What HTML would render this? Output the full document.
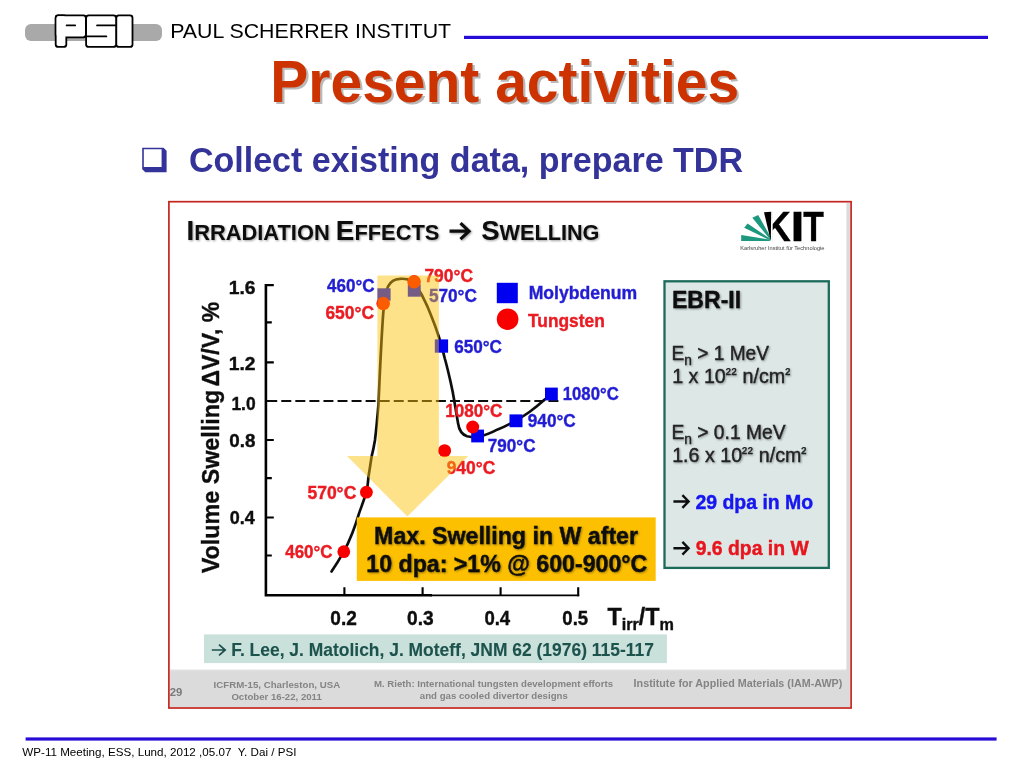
<!DOCTYPE html>
<html lang="en">
<head>
<meta charset="utf-8">
<title>Present activities</title>
<style>
html,body{margin:0;padding:0;background:#fff;}
body{width:1024px;height:768px;position:relative;overflow:hidden;font-family:"Liberation Sans",sans-serif;}
#slide{position:absolute;left:0;top:0;width:1024px;height:768px;display:block;}
text{font-family:"Liberation Sans",sans-serif;}
.b{font-weight:bold;}
.blue{fill:#241fd2;stroke:#241fd2;}
.red{fill:#ea1c24;stroke:#ea1c24;}
#figure text{stroke-width:0.4px;}
</style>
</head>
<body>
<svg id="slide" width="1024" height="768" viewBox="0 0 1024 768">
<defs>
  <filter id="soft" x="-2%" y="-2%" width="104%" height="104%"><feGaussianBlur stdDeviation="0.62"/></filter>
  <filter id="sh" x="-10%" y="-30%" width="120%" height="170%">
    <feGaussianBlur in="SourceAlpha" stdDeviation="1" result="b"/>
    <feOffset in="b" dx="1" dy="1.3" result="o"/>
    <feComponentTransfer in="o" result="s"><feFuncA type="linear" slope="0.38"/></feComponentTransfer>
    <feMerge><feMergeNode in="s"/><feMergeNode in="SourceGraphic"/></feMerge>
  </filter>
  <linearGradient id="footg" x1="0" y1="0" x2="0" y2="1"><stop offset="0" stop-color="#e6e6e6"/><stop offset="0.06" stop-color="#dbdbdb"/><stop offset="1" stop-color="#dbdbdb"/></linearGradient>
</defs>

<!-- ===== header ===== -->
<g id="psi-logo">
  <rect x="25" y="24" width="137" height="17" rx="6" ry="6" fill="#a9a9a9"/>
  <g fill="#000">
    <rect x="54.8" y="14.4" width="32" height="23.8" rx="3.4"/>
    <rect x="54.8" y="14.4" width="12.4" height="33.4" rx="3.4"/>
    <rect x="85.2" y="14.4" width="31.8" height="33.4" rx="3.4"/>
    <rect x="115.4" y="14.4" width="18" height="33.4" rx="3.4"/>
  </g>
  <g fill="#fff">
    <rect x="56.6" y="16.2" width="28.4" height="20.2" rx="1.8"/>
    <rect x="56.6" y="16.2" width="8.8" height="29.8" rx="1.8"/>
    <rect x="87" y="16.2" width="28.2" height="29.8" rx="1.8"/>
    <rect x="117.2" y="16.2" width="14.4" height="29.8" rx="1.8"/>
  </g>
  <g stroke="#000" stroke-width="1.7" stroke-linecap="round" fill="none">
    <line x1="66.6" y1="25.4" x2="75.2" y2="25.4"/>
    <line x1="97" y1="25.4" x2="115.5" y2="25.4"/>
    <line x1="86" y1="36.4" x2="106.4" y2="36.4"/>
  </g>
</g>
<text id="hdr" x="170.2" y="37.5" font-size="21" textLength="280.9" lengthAdjust="spacingAndGlyphs" fill="#000">PAUL SCHERRER INSTITUT</text>
<rect x="464" y="35.8" width="524" height="3.2" fill="#260cd4"/>

<!-- ===== title ===== -->
<text id="titlesh" x="272.5" y="103.7" font-size="60" class="b" textLength="468.8" lengthAdjust="spacingAndGlyphs" fill="#b9b9b9">Present activities</text>
<text id="title" x="270.3" y="101.5" font-size="60" class="b" textLength="468.8" lengthAdjust="spacingAndGlyphs" fill="#cc3300">Present activities</text>

<!-- ===== bullet ===== -->
<path d="M142.2 147.7H163.5L166.6 150.8V172.3H145.3L142.2 169.2Z M143.8 149.2V167H161.6V149.2Z" fill="#333399" fill-rule="evenodd"/>
<text id="bul" x="188.9" y="172.2" font-size="35.8" class="b" textLength="554.1" lengthAdjust="spacingAndGlyphs" fill="#333399">Collect existing data, prepare TDR</text>

<!-- ===== embedded figure ===== -->
<g id="figure">
  <rect x="168.9" y="201.7" width="682.2" height="506.3" fill="#fff" stroke="#c4261f" stroke-width="1.7"/>
  <rect x="170" y="669.4" width="680" height="37.6" fill="url(#footg)"/>
  <rect x="846.4" y="203" width="3.6" height="504" fill="#dbdbdb"/>

  <g filter="url(#soft)">
  <!-- figure title -->
  <g class="b" fill="#0a0a0a" filter="url(#sh)">
    <text id="ft1" x="186.4" y="239.8" textLength="253.0" lengthAdjust="spacingAndGlyphs"><tspan font-size="28">I</tspan><tspan font-size="22">RRADIATION </tspan><tspan font-size="28">E</tspan><tspan font-size="22">FFECTS</tspan></text>
    <text id="ft2" x="481.2" y="239.8" textLength="118.2" lengthAdjust="spacingAndGlyphs"><tspan font-size="28">S</tspan><tspan font-size="22">WELLING</tspan></text>
    <path d="M449.5 231.2H468.5M460.5 223.2L469 231.2L460.5 239.2" fill="none" stroke="#111" stroke-width="3.2" stroke-linejoin="miter"/>
  </g>

  <!-- KIT logo -->
  <g id="kitlogo">
    <clipPath id="kclip"><rect x="772.7" y="205" width="30" height="40"/></clipPath>
    <g fill="#1c987e">
      <polygon points="770.4,241 741.2,241 741.2,235 769,239.6"/>
      <polygon points="770.4,240.6 744.2,227.8 747.6,223.5 770,238.8"/>
      <polygon points="770.6,240 752.3,217.8 758.2,215 770.6,237"/>
    </g>
    <polygon points="764,212.2 771.2,211.7 770.8,241" fill="#000"/>
    <g font-size="42.6" class="b" fill="#000" stroke="#000" stroke-width="0.9">
      <text id="kitk" clip-path="url(#kclip)" x="764.3" y="240.6" textLength="26.5" lengthAdjust="spacingAndGlyphs">K</text>
      <text id="kiti" x="790.6" y="240.6" textLength="14" lengthAdjust="spacingAndGlyphs">I</text>
      <text id="kitt" x="803.2" y="240.6" textLength="20.6" lengthAdjust="spacingAndGlyphs">T</text>
    </g>
    <text id="kitsub" x="740.3" y="249.5" font-size="5.6" textLength="84.2" lengthAdjust="spacingAndGlyphs" fill="#444">Karlsruher Institut für Technologie</text>
  </g>

  <!-- chart axes -->
  <g stroke="#000" fill="none" stroke-width="2.6">
    <path d="M265.9 284V595.2H432"/><path d="M430 595.4H579.2" stroke-width="1.9"/>
    <path d="M265 285.1H273.8M266 322.4H271.8M266 362.4H273.8M266 401H273.8M266 440H273.8M266 478.2H271.8M266 517.5H273.8M266 555.5H271.8" stroke-width="2.2"/>
    <path d="M344.4 595V587.2M422.6 595V587.2M500.6 595V587.2M578.2 596.3V587.2" stroke-width="2.1"/>
  </g>
  <path d="M267.2 401.1H561.5" stroke="#111" stroke-width="2" stroke-dasharray="10 4.06" fill="none"/>

  <!-- axis labels -->
  <g class="b" font-size="18" fill="#111" stroke="#111">
    <text id="y16" x="228.7" y="293.6" textLength="26.8" lengthAdjust="spacingAndGlyphs">1.6</text>
    <text id="y12" x="228.7" y="370.2" textLength="26.8" lengthAdjust="spacingAndGlyphs">1.2</text>
    <text id="y10" x="231.4" y="409.8" textLength="24.2" lengthAdjust="spacingAndGlyphs">1.0</text>
    <text id="y08" x="229.3" y="446.6" textLength="26.1" lengthAdjust="spacingAndGlyphs">0.8</text>
    <text id="y04" x="229.8" y="524.4" textLength="25.0" lengthAdjust="spacingAndGlyphs">0.4</text>
  </g>
  <g class="b" font-size="20.2" fill="#111" stroke="#111">
    <text id="x02" x="330.3" y="625" textLength="26.5" lengthAdjust="spacingAndGlyphs">0.2</text>
    <text id="x03" x="407.1" y="625" textLength="26.7" lengthAdjust="spacingAndGlyphs">0.3</text>
    <text id="x04" x="484.4" y="625" textLength="25.8" lengthAdjust="spacingAndGlyphs">0.4</text>
    <text id="x05" x="562.3" y="625" textLength="25.9" lengthAdjust="spacingAndGlyphs">0.5</text>
  </g>
  <text id="tirr" class="b" font-size="23.6" fill="#111" stroke="#111" x="607.5" y="624.9" textLength="66.4" lengthAdjust="spacingAndGlyphs">T<tspan font-size="16.4" dy="4.8">irr</tspan><tspan dy="-4.8">/T</tspan><tspan font-size="16.4" dy="4.8">m</tspan></text>
  <text id="ytitle" class="b" font-size="24.4" fill="#111" stroke="#111" transform="translate(218.6,573.2) rotate(-90)" x="0" y="0" textLength="183.4" lengthAdjust="spacingAndGlyphs">Volume Swelling</text>
  <text id="ytitle2" class="b" font-size="24.4" fill="#111" stroke="#111" transform="translate(218.6,386.6) rotate(-90)" x="0" y="0" textLength="84.8" lengthAdjust="spacingAndGlyphs">ΔV/V, %</text>

  <!-- curve -->
  <path d="M331.5 571.5C336 565 340 558.5 343.8 551.7C350 540 355 527 358.8 514.1C361.6 506 364.4 499 366.4 492.2C367.6 487 368 482 368.5 476.5C369.6 470 370.6 463 371.7 456.1C373 451 374 446 375 440C376.4 428 377.4 417 378.4 405C379.8 375 381 344 383.2 313.6C384 302 385.4 293 388.1 286.3C390.8 281 394.6 279 399.8 278.8C403 278.6 405.4 278.8 407.7 279.4C413 281.4 417.4 287 421.3 294C425 301 428.4 308.4 431.1 315.5C434 322.6 436.6 329.6 438.9 337C441 344 443 351 444.8 358.5C446.9 366 448.8 374 450.6 382C452.2 389 453.4 395 454.3 401C455.6 409 456.8 416 458 423C459 430 462 434.6 467 436.2C470 437 473 437.3 476.6 437.3C484 435.8 491 433 497.7 429.4C502 427.8 506 426 509.8 423.9C517 420.4 523.4 416.4 529.4 412C535 408 540 403.8 545 399.3" fill="none" stroke="#111" stroke-width="2.7" stroke-linecap="round" stroke-linejoin="round"/>

  <!-- data markers -->
  <g fill="#0306f1">
    <rect x="377.5" y="288.3" width="13.1" height="12.4"/>
    <rect x="407.8" y="284.4" width="12.9" height="12.3"/>
    <rect x="434.8" y="339.4" width="13.3" height="13.3"/>
    <rect x="471.2" y="429.6" width="12.8" height="12.8"/>
    <rect x="509.5" y="414.4" width="13" height="12.8"/>
    <rect x="545" y="387.6" width="12.8" height="12.8"/>
    <rect x="496.8" y="282.8" width="21" height="20.4"/>
  </g>
  <g fill="#f90606">
    <circle cx="383.2" cy="303.5" r="6.8"/>
    <circle cx="414.1" cy="281.8" r="6.8"/>
    <circle cx="472.7" cy="427" r="6.5"/>
    <circle cx="444.6" cy="450.7" r="6.5"/>
    <circle cx="366.4" cy="492.2" r="6.4"/>
    <circle cx="343.8" cy="551.7" r="6.4"/>
    <circle cx="507.6" cy="319.2" r="10.8"/>
  </g>

  <!-- data labels -->
  <g class="b" font-size="18.2">
    <text id="l1" class="blue" x="327.1" y="291.7" textLength="47.5" lengthAdjust="spacingAndGlyphs">460°C</text>
    <text id="l2" class="red" x="325.4" y="319" textLength="48.7" lengthAdjust="spacingAndGlyphs">650°C</text>
    <text id="l3" class="red" x="424.4" y="282" textLength="48.6" lengthAdjust="spacingAndGlyphs">790°C</text>
    <text id="l4" class="blue" x="428.9" y="302.3" textLength="48.0" lengthAdjust="spacingAndGlyphs">570°C</text>
    <text id="l5" class="blue" x="454.2" y="352.6" textLength="47.8" lengthAdjust="spacingAndGlyphs">650°C</text>
    <text id="l6" class="red" x="445.3" y="416.5" textLength="57.0" lengthAdjust="spacingAndGlyphs">1080°C</text>
    <text id="l7" class="blue" x="562.8" y="399.7" textLength="55.9" lengthAdjust="spacingAndGlyphs">1080°C</text>
    <text id="l8" class="blue" x="527.8" y="427" textLength="47.9" lengthAdjust="spacingAndGlyphs">940°C</text>
    <text id="l9" class="blue" x="487.8" y="451.6" textLength="47.7" lengthAdjust="spacingAndGlyphs">790°C</text>
    <text id="l10" class="red" x="446.7" y="473.9" textLength="48.6" lengthAdjust="spacingAndGlyphs">940°C</text>
    <text id="l11" class="red" x="307.4" y="499.1" textLength="48.9" lengthAdjust="spacingAndGlyphs">570°C</text>
    <text id="l12" class="red" x="285.3" y="557.7" textLength="47.2" lengthAdjust="spacingAndGlyphs">460°C</text>
    <text id="lmo" class="blue" x="528.7" y="298.6" textLength="108.4" lengthAdjust="spacingAndGlyphs">Molybdenum</text>
    <text id="lw" class="red" x="528.0" y="326.6" textLength="76.8" lengthAdjust="spacingAndGlyphs">Tungsten</text>
  </g>

  <!-- translucent arrow -->
  <polygon points="377.4,275.5 438.9,275.5 438.9,456.1 468.2,456.1 407.4,516.6 347,456.1 377.4,456.1" fill="#fdc004" fill-opacity="0.46"/>

  <!-- orange callout -->
  <rect x="356.8" y="517.4" width="298.9" height="63.5" fill="#fdc005"/>
  <g class="b" font-size="23.8" fill="#0c0c0c" stroke="#0c0c0c" filter="url(#sh)">
    <text id="c1" x="374.1" y="543.6" textLength="263.9" lengthAdjust="spacingAndGlyphs">Max. Swelling in W after</text>
    <text id="c2" x="366.3" y="571.5" textLength="281.0" lengthAdjust="spacingAndGlyphs">10 dpa: &gt;1% @ 600-900°C</text>
  </g>

  <!-- EBR-II box -->
  <rect x="664.5" y="281.3" width="164.3" height="286.6" fill="#dde8e6" stroke="#1c6a5a" stroke-width="2.3"/>
  <g fill="#222" stroke="#222" filter="url(#sh)">
    <text id="e0" class="b" font-size="23.2" fill="#0d0d0d" stroke="#0d0d0d" x="672.0" y="307.5" textLength="69.1" lengthAdjust="spacingAndGlyphs">EBR-II</text>
    <text id="e1" font-size="20.2" x="671.6" y="359.8" textLength="97.3" lengthAdjust="spacingAndGlyphs">E<tspan font-size="14.5" dy="5">n</tspan><tspan dy="-5"> &gt; 1 MeV</tspan></text>
    <text id="e2" font-size="20.2" x="672.2" y="383.3" textLength="118.0" lengthAdjust="spacingAndGlyphs">1 x 10<tspan font-size="15.5" dy="-4" letter-spacing="0.6">²²</tspan><tspan dy="4"> n/cm</tspan><tspan font-size="15.5" dy="-4">²</tspan></text>
    <text id="e3" font-size="20.2" x="671.4" y="438.5" textLength="114.1" lengthAdjust="spacingAndGlyphs">E<tspan font-size="14.5" dy="5">n</tspan><tspan dy="-5"> &gt; 0.1 MeV</tspan></text>
    <text id="e4" font-size="20.2" x="672.2" y="462.2" textLength="134.2" lengthAdjust="spacingAndGlyphs">1.6 x 10<tspan font-size="15.5" dy="-4" letter-spacing="0.6">²²</tspan><tspan dy="4"> n/cm</tspan><tspan font-size="15.5" dy="-4">²</tspan></text>
  </g>
  <g fill="none" stroke="#111" stroke-width="2.4" stroke-linejoin="miter">
    <path d="M673.4 501.5H687.4M682.4 495.1L688.6 501.5L682.4 507.9"/>
    <path d="M673.4 548.3H687.4M682.4 541.9L688.6 548.3L682.4 554.7"/>
  </g>
  <text id="e5" class="b" font-size="19.3" fill="#1414f0" stroke="#1414f0" x="695.4" y="509" textLength="117.8" lengthAdjust="spacingAndGlyphs">29 dpa in Mo</text>
  <text id="e6" class="b" font-size="19.3" fill="#e8141e" stroke="#e8141e" x="695.7" y="555.2" textLength="113.0" lengthAdjust="spacingAndGlyphs">9.6 dpa in W</text>

  <!-- citation strip -->
  <rect x="204" y="634.4" width="462.9" height="28.7" fill="#cae0db"/>
  <path d="M211.8 650H224.4M219 644.6L225.2 650L219 655.4" fill="none" stroke="#1d4f4c" stroke-width="1.7"/>
  <text id="cit" class="b" font-size="17.7" fill="#1d524d" stroke="#1d524d" style="stroke-width:0.1px" x="231.2" y="655.9" textLength="422.7" lengthAdjust="spacingAndGlyphs">F. Lee, J. Matolich, J. Moteff, JNM 62 (1976) 115-117</text>

  <!-- figure footer -->
  <g class="b" fill="#848484">
    <text id="f0" font-size="11.2" fill="#7a7a7a" x="169.8" y="696" textLength="12.6" lengthAdjust="spacingAndGlyphs">29</text>
    <text id="f1" font-size="9.4" x="213.6" y="687.9" textLength="126.6" lengthAdjust="spacingAndGlyphs">ICFRM-15, Charleston, USA</text>
    <text id="f2" font-size="9.4" x="231.4" y="699.5" textLength="90.4" lengthAdjust="spacingAndGlyphs">October 16-22, 2011</text>
    <text id="f3" font-size="9.6" x="374.0" y="686.9" textLength="239.0" lengthAdjust="spacingAndGlyphs">M. Rieth: International tungsten development efforts</text>
    <text id="f4" font-size="9.6" x="419.8" y="699" textLength="148.0" lengthAdjust="spacingAndGlyphs">and gas cooled divertor designs</text>
    <text id="f5" font-size="10.8" x="633.6" y="686.9" textLength="208.7" lengthAdjust="spacingAndGlyphs">Institute for Applied Materials (IAM-AWP)</text>
  </g>
  </g>
</g>

<!-- ===== slide footer ===== -->
<rect x="25.6" y="737.4" width="971" height="3.2" fill="#260cd4"/>
<text id="foot" x="22.3" y="755.5" font-size="11.3" textLength="274.1" lengthAdjust="spacingAndGlyphs" fill="#000">WP-11 Meeting, ESS, Lund, 2012 ,05.07 &#160;Y. Dai / PSI</text>
</svg>
</body>
</html>
